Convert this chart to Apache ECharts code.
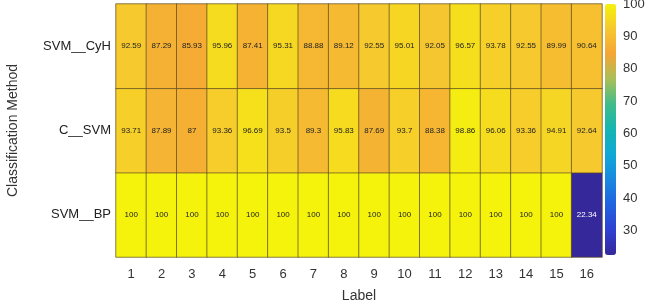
<!DOCTYPE html>
<html><head><meta charset="utf-8">
<script src="https://cdn.jsdelivr.net/npm/echarts@6/dist/echarts.min.js"></script>
<style>html,body{margin:0;padding:0;background:#fff}#c{width:650px;height:303px}</style>
</head><body><div id="c"></div>
<script>
const labels = ['1','2','3','4','5','6','7','8','9','10','11','12','13','14','15','16'];
const methods = ['SVM__BP','C__SVM','SVM__CyH']; // bottom to top
const svmCyH = [92.59,87.29,85.93,95.96,87.41,95.31,88.88,89.12,92.55,95.01,92.05,96.57,93.78,92.55,89.99,90.64];
const cSVM   = [93.71,87.89,87,93.36,96.69,93.5,89.3,95.83,87.69,93.7,88.38,98.86,96.06,93.36,94.91,92.64];
const svmBP  = [100,100,100,100,100,100,100,100,100,100,100,100,100,100,100,22.34];
const colorbarTicks = [30,40,50,60,70,80,90,100];
const rows = [svmBP, cSVM, svmCyH];
const allVals = [].concat(svmCyH, cSVM, svmBP);
const vMin = Math.min(...allVals), vMax = Math.max(...allVals);

const data = [];
rows.forEach((r, yi) => r.forEach((v, xi) => {
  const item = {value: [xi, yi, v]};
  if (v < 50) item.label = {color: '#fff'};
  data.push(item);
}));

const FONT = 'Liberation Sans, Arial, sans-serif';
const chart = echarts.init(document.getElementById('c'));
chart.setOption({
  animation: false,
  textStyle: {fontFamily: FONT},
  grid: [
    {left: 116, right: 48, top: 4, bottom: 46, outerBoundsMode: 'none', containLabel: false},
    {left: 605, width: 11, top: 4, height: 251, outerBoundsMode: 'none', containLabel: false}
  ],
  xAxis: [
    {type: 'category', data: labels, gridIndex: 0,
     axisLine: {show: false}, axisTick: {show: false}, splitLine: {show: false},
     axisLabel: {fontSize: 13, color: '#333', margin: 11},
     name: 'Label', nameLocation: 'middle', nameGap: 32,
     nameTextStyle: {fontSize: 14, color: '#333'}},
    {type: 'value', gridIndex: 1, show: false, min: 0, max: 1}
  ],
  yAxis: [
    {type: 'category', data: methods, gridIndex: 0,
     axisLine: {show: false}, axisTick: {show: false}, splitLine: {show: false},
     axisLabel: {fontSize: 13, color: '#222', margin: 5},
     name: 'Classification Method', nameLocation: 'middle', nameGap: 96,
     nameTextStyle: {fontSize: 14, color: '#333'}},
    {type: 'value', gridIndex: 1, position: 'right', min: vMin, max: vMax,
     axisLine: {show: false}, axisTick: {show: false}, splitLine: {show: false},
     axisLabel: {fontSize: 13, color: '#333', margin: 7, customValues: colorbarTicks}}
  ],
  visualMap: {
    type: 'continuous', min: vMin, max: vMax, seriesIndex: 0,
    calculable: false, show: true, orient: 'vertical',
    left: 605, top: 4, itemWidth: 11, itemHeight: 251, text: ['', ''],
    padding: 0,
    inRange: {color: ['#35289a','#2f40d2','#2062e0','#1a88e0','#10a8d6','#14b5b2','#40bc8a','#a8bf58','#f5a535','#f6c730','#f5f20c']}
  },
  series: [{
    type: 'heatmap', xAxisIndex: 0, yAxisIndex: 0, data: data,
    itemStyle: {borderColor: '#5a4a20', borderWidth: 0.7},
    label: {show: true, fontSize: 8, color: '#222', formatter: p => String(p.value[2])},
    emphasis: {disabled: true}
  }]
});
</script></body></html>
